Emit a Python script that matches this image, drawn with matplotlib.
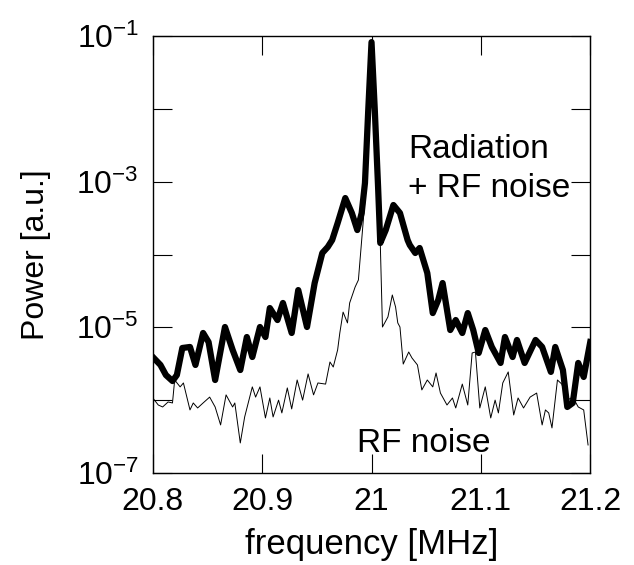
"""
Power spectrum around 21 MHz: radiation + RF noise vs RF noise only.
"""

import matplotlib
matplotlib.use("Agg")
import matplotlib.pyplot as plt

plt.rcParams["font.family"] = ["Liberation Sans", "DejaVu Sans"]
plt.rcParams["mathtext.fontset"] = "custom"
plt.rcParams["mathtext.rm"] = "Liberation Sans"
plt.rcParams["mathtext.default"] = "regular"

# ---------------------------------------------------------------------------
# Data
# ---------------------------------------------------------------------------
freq_signal = [
    20.800, 20.807, 20.812, 20.818, 20.822, 20.827, 20.834, 20.839, 20.846, 20.851,
    20.857, 20.866, 20.873, 20.880, 20.886, 20.891, 20.898, 20.903, 20.907, 20.914,
    20.919, 20.927, 20.933, 20.941, 20.948, 20.955, 20.960, 20.964, 20.969, 20.976,
    20.982, 20.987, 20.991, 20.994, 20.997, 21.000, 21.003, 21.006, 21.008, 21.013,
    21.020, 21.026, 21.033, 21.035, 21.040, 21.044, 21.051, 21.056, 21.061, 21.065,
    21.072, 21.077, 21.083, 21.088, 21.093, 21.098, 21.104, 21.110, 21.118, 21.122,
    21.129, 21.133, 21.140, 21.150, 21.156, 21.164, 21.168, 21.175, 21.179, 21.184,
    21.189, 21.194, 21.200,
]
power_signal = [
    3.91e-6, 3.04e-6, 2.21e-6, 1.83e-6, 2.21e-6, 5.20e-6, 5.37e-6, 3.04e-6, 8.36e-6, 6.28e-6,
    1.89e-6, 1.01e-5, 4.89e-6, 2.59e-6, 7.36e-6, 3.91e-6, 1.01e-5, 7.36e-6, 1.84e-5, 1.26e-5,
    2.16e-5, 8.36e-6, 3.25e-5, 1.01e-5, 4.06e-5, 1.05e-4, 1.27e-4, 1.58e-4, 2.70e-4, 5.97e-4,
    3.72e-4, 2.17e-4, 3.72e-4, 9.60e-4, 9.60e-3, 8.28e-2, 9.60e-3, 8.45e-4, 1.44e-4, 2.17e-4,
    4.79e-4, 3.72e-4, 1.58e-4, 1.35e-4, 1.05e-4, 1.23e-4, 5.57e-5, 1.57e-5, 2.37e-5, 4.06e-5,
    9.18e-6, 1.26e-5, 8.36e-6, 1.57e-5, 9.18e-6, 4.44e-6, 9.18e-6, 5.37e-6, 3.24e-6, 7.36e-6,
    3.91e-6, 6.70e-6, 3.24e-6, 6.70e-6, 5.37e-6, 2.44e-6, 5.37e-6, 2.59e-6, 8.05e-7, 9.14e-7,
    3.24e-6, 2.08e-6, 6.28e-6,
]

freq_noise = [
    20.800, 20.805, 20.809, 20.814, 20.818, 20.820, 20.825, 20.828, 20.834, 20.837,
    20.841, 20.846, 20.852, 20.857, 20.862, 20.867, 20.873, 20.875, 20.880, 20.884,
    20.891, 20.894, 20.898, 20.903, 20.907, 20.910, 20.915, 20.918, 20.923, 20.927,
    20.932, 20.937, 20.942, 20.947, 20.951, 20.958, 20.962, 20.965, 20.969, 20.971,
    20.974, 20.978, 20.980, 20.985, 20.988, 20.991, 20.994, 20.997, 21.000, 21.003,
    21.006, 21.008, 21.010, 21.015, 21.019, 21.022, 21.024, 21.026, 21.029, 21.034,
    21.037, 21.042, 21.046, 21.051, 21.056, 21.059, 21.063, 21.069, 21.074, 21.077,
    21.083, 21.088, 21.092, 21.095, 21.099, 21.104, 21.109, 21.113, 21.116, 21.120,
    21.125, 21.130, 21.134, 21.139, 21.145, 21.151, 21.156, 21.159, 21.162, 21.165,
    21.170, 21.174, 21.179, 21.184, 21.189, 21.194, 21.198,
]
power_noise = [
    1.07e-6, 8.57e-7, 8.05e-7, 9.43e-7, 9.14e-7, 1.89e-6, 1.52e-6, 1.72e-6, 7.33e-7, 9.14e-7,
    7.80e-7, 9.14e-7, 1.10e-6, 8.05e-7, 4.56e-7, 1.18e-6, 8.05e-7, 9.14e-7, 2.58e-7, 5.87e-7,
    1.52e-6, 1.10e-6, 1.52e-6, 5.69e-7, 1.07e-6, 5.87e-7, 1.00e-6, 6.67e-7, 1.47e-6, 7.57e-7,
    1.89e-6, 1.00e-6, 2.29e-6, 1.18e-6, 1.72e-6, 1.66e-6, 3.34e-6, 2.85e-6, 4.89e-6, 8.36e-6,
    1.62e-5, 1.15e-5, 2.16e-5, 3.58e-5, 4.47e-5, 1.58e-4, 5.60e-4, 7.03e-3, 5.48e-2, 7.03e-3,
    7.67e-4, 1.44e-4, 1.01e-5, 1.39e-5, 2.78e-5, 1.90e-5, 1.15e-5, 1.01e-5, 3.13e-6, 4.58e-6,
    3.79e-6, 3.04e-6, 1.38e-6, 1.89e-6, 1.52e-6, 2.36e-6, 1.25e-6, 8.57e-7, 1.07e-6, 7.80e-7,
    1.66e-6, 8.57e-7, 4.44e-6, 4.58e-6, 7.80e-7, 1.52e-6, 5.69e-7, 1.00e-6, 6.67e-7, 1.72e-6,
    2.44e-6, 6.25e-7, 1.07e-6, 7.80e-7, 1.10e-6, 1.25e-6, 4.56e-7, 7.33e-7, 6.67e-7, 4.15e-7,
    1.89e-6, 1.66e-6, 1.00e-6, 1.10e-6, 8.05e-7, 7.33e-7, 2.42e-7,
]

x_ticks = [20.8, 20.9, 21.0, 21.1, 21.2]
x_tick_labels = ["20.8", "20.9", "21", "21.1", "21.2"]
y_exponents = [-7, -6, -5, -4, -3, -2, -1]

# ---------------------------------------------------------------------------
# Figure
# ---------------------------------------------------------------------------
fig = plt.figure(figsize=(6.34, 5.65), dpi=100)
ax = fig.add_axes([0.241, 0.163, 0.690, 0.773])

ax.plot(freq_noise, power_noise, color="black", lw=0.7, zorder=2)
ax.plot(freq_signal, power_signal, color="black", lw=4.5,
        solid_joinstyle="round", zorder=3)

ax.set_yscale("log")
ax.set_xlim(20.8, 21.2)
ax.set_ylim(1e-7, 1e-1)

ax.set_xticks(x_ticks)
ax.set_xticklabels(x_tick_labels, fontsize=23)
ax.set_yticks([10.0 ** e for e in y_exponents])
ax.set_yticklabels(
    [r"$10^{%d}$" % e if e % 2 else "" for e in y_exponents], fontsize=23
)
ax.minorticks_off()
ax.tick_params(which="major", direction="in", length=14, width=0.8,
               top=True, right=True, pad=10)

for spine in ax.spines.values():
    spine.set_linewidth(1.0)

ax.set_xlabel("frequency [MHz]", fontsize=25, labelpad=8)
ax.set_ylabel("Power [a.u.]", fontsize=23, labelpad=18)

ax.text(21.0335, 2.11e-3, "Radiation", fontsize=24, va="baseline")
ax.text(21.0335, 6.2e-4, "+ RF noise", fontsize=24, va="baseline")
ax.text(20.987, 1.94e-7, "RF noise", fontsize=24, va="baseline")

fig.savefig("out.png", dpi=100)
